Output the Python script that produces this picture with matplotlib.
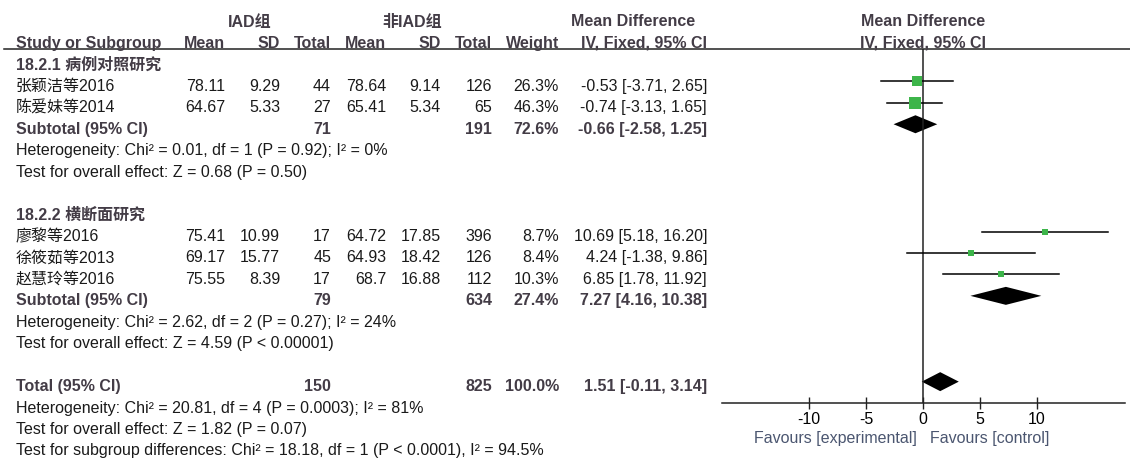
import numpy as np
import matplotlib.pyplot as plt

plt.rcParams['font.family'] = ['Liberation Sans', 'Noto Sans CJK SC']
plt.rcParams['font.size'] = 11.5

# ── DATA ─────────────────────────────────────────────────────
groups = ["18.2.1 病例对照研究", "18.2.2 横断面研究"]
group_of = [0, 0, 1, 1, 1]
studies = ["张颖洁等2016", "陈爱妹等2014", "廖黎等2016", "徐筱茹等2013", "赵慧玲等2016"]
mean1 = [78.11, 64.67, 75.41, 69.17, 75.55]
sd1 = [9.29, 5.33, 10.99, 15.77, 8.39]
n1 = [44, 27, 17, 45, 17]
mean2 = [78.64, 65.41, 64.72, 64.93, 68.7]
sd2 = [9.14, 5.34, 17.85, 18.42, 16.88]
n2 = [126, 65, 396, 126, 112]
weight = [26.3, 46.3, 8.7, 8.4, 10.3]
md = [-0.53, -0.74, 10.69, 4.24, 6.85]
lo = [-3.71, -3.13, 5.18, -1.38, 1.78]
hi = [2.65, 1.65, 16.20, 9.86, 11.92]

sub_n1 = [71, 79]
sub_n2 = [191, 634]
sub_w = [72.6, 27.4]
sub_md = [-0.66, 7.27]
sub_lo = [-2.58, 4.16]
sub_hi = [1.25, 10.38]
sub_het = ["Heterogeneity: Chi² = 0.01, df = 1 (P = 0.92); I² = 0%",
           "Heterogeneity: Chi² = 2.62, df = 2 (P = 0.27); I² = 24%"]
sub_eff = ["Test for overall effect: Z = 0.68 (P = 0.50)",
           "Test for overall effect: Z = 4.59 (P < 0.00001)"]

tot_n1, tot_n2, tot_w = 150, 825, 100.0
tot_md, tot_lo, tot_hi = 1.51, -0.11, 3.14
tot_notes = ["Heterogeneity: Chi² = 20.81, df = 4 (P = 0.0003); I² = 81%",
             "Test for overall effect: Z = 1.82 (P = 0.07)",
             "Test for subgroup differences: Chi² = 18.18, df = 1 (P < 0.0001), I² = 94.5%"]

ticks = [-10, -5, 0, 5, 10]

# ── LAYOUT ───────────────────────────────────────────────────
W, H = 1130, 460
BOLD = '#433c46'
TXT = '#1a1a1a'
GREEN = '#3db54a'
x_name = 16
x_mean1, x_sd1, x_n1 = 225, 280, 331
x_mean2, x_sd2, x_n2 = 386, 441, 492
x_w, x_ci = 559, 707


def ypx(r):          # text row -> pixel
    return 22 + 21.45 * r


def fr(r):           # plot row -> pixel (marks sit slightly higher than text)
    return ypx(r) - 4


fig = plt.figure(figsize=(W / 100, H / 100), dpi=100)
ax = fig.add_axes([0, 0, 1, 1])
ax.set_xlim(0, W)
ax.set_ylim(H, 0)
ax.axis('off')

# forest plot axes: from header line (y=50) down to axis line (y=404)
fx0, fx1, fy0, fy1 = 722, 1125, 50, 404
fa = fig.add_axes([fx0 / W, 1 - fy1 / H, (fx1 - fx0) / W, (fy1 - fy0) / H])
fa.set_facecolor('none')
fa.set_xlim(-17.63, 17.72)
fa.set_ylim(fy1, fy0)   # y in pixels, inverted
for s in ['top', 'left', 'right']:
    fa.spines[s].set_visible(False)
fa.spines['bottom'].set_linewidth(1.1)
fa.spines['bottom'].set_color('#222')
fa.set_yticks([])
fa.set_xticks(ticks)
fa.set_xticklabels([str(t) for t in ticks])
fa.tick_params(axis='x', direction='inout', length=9, width=1, color='#222',
               labelsize=11.5, pad=1)
fa.axvline(0, color='#222', lw=1.1)


def t(x, r, s, ha='right', bold=False, color=None, **kw):
    ax.text(x, ypx(r), s, ha=ha, va='center',
            fontweight='bold' if bold else 'normal',
            color=color or (BOLD if bold else TXT), **kw)


# headers
t(250, 0, "IAD组", ha='center', bold=True)
t(412, 0, "非IAD组", ha='center', bold=True)
t(633, 0, "Mean Difference", ha='center', bold=True)
t(923, 0, "Mean Difference", ha='center', bold=True)
t(x_name, 1, "Study or Subgroup", ha='left', bold=True)
for x, s in [(x_mean1, "Mean"), (x_sd1, "SD"), (x_n1, "Total"),
             (x_mean2, "Mean"), (x_sd2, "SD"), (x_n2, "Total"), (x_w, "Weight"),
             (x_ci, "IV, Fixed, 95% CI")]:
    t(x, 1, s, bold=True)
t(923, 1, "IV, Fixed, 95% CI", ha='center', bold=True)
ax.plot([4, W], [50, 50], color='#222', lw=1.1)


def ci_str(m, a, b):
    return f"{m:.2f} [{a:.2f}, {b:.2f}]"


def diamond(m, a, b, r, h=9):
    y = fr(r)
    fa.fill([a, m, b, m], [y, y - h, y, y + h], color='black', lw=0)


row = 2
for g in range(len(groups)):
    t(x_name, row, groups[g], ha='left', bold=True)
    row += 1
    for i in [k for k in range(len(studies)) if group_of[k] == g]:
        t(x_name, row, studies[i], ha='left')
        t(x_mean1, row, f"{mean1[i]:g}")
        t(x_sd1, row, f"{sd1[i]:g}")
        t(x_n1, row, str(n1[i]))
        t(x_mean2, row, f"{mean2[i]:g}")
        t(x_sd2, row, f"{sd2[i]:g}")
        t(x_n2, row, str(n2[i]))
        t(x_w, row, f"{weight[i]:.1f}%")
        t(x_ci, row, ci_str(md[i], lo[i], hi[i]))
        # CI line + weighted square
        fa.plot([lo[i], hi[i]], [fr(row), fr(row)], color='black', lw=1.1)
        side = 1.85 * np.sqrt(weight[i]) * 0.72
        fa.plot(md[i], fr(row), marker='s', ms=side, color=GREEN, mec=GREEN, mew=0)
        row += 1
    t(x_name, row, "Subtotal (95% CI)", ha='left', bold=True)
    t(x_n1, row, str(sub_n1[g]), bold=True)
    t(x_n2, row, str(sub_n2[g]), bold=True)
    t(x_w, row, f"{sub_w[g]:.1f}%", bold=True)
    t(x_ci, row, ci_str(sub_md[g], sub_lo[g], sub_hi[g]), bold=True)
    diamond(sub_md[g], sub_lo[g], sub_hi[g], row)
    t(x_name, row + 1, sub_het[g], ha='left')
    t(x_name, row + 2, sub_eff[g], ha='left')
    row += 4

t(x_name, row, "Total (95% CI)", ha='left', bold=True)
t(x_n1, row, str(tot_n1), bold=True)
t(x_n2, row, str(tot_n2), bold=True)
t(x_w, row, f"{tot_w:.1f}%", bold=True)
t(x_ci, row, ci_str(tot_md, tot_lo, tot_hi), bold=True)
diamond(tot_md, tot_lo, tot_hi, row, h=9.5)
for k, s in enumerate(tot_notes):
    t(x_name, row + 1 + k, s, ha='left')

# favours labels under the axis
ax.text(917, 439, "Favours [experimental]", ha='right', va='center', color='#4b5670')
ax.text(930, 439, "Favours [control]", ha='left', va='center', color='#4b5670')

fig.savefig("out.png", dpi=100)
